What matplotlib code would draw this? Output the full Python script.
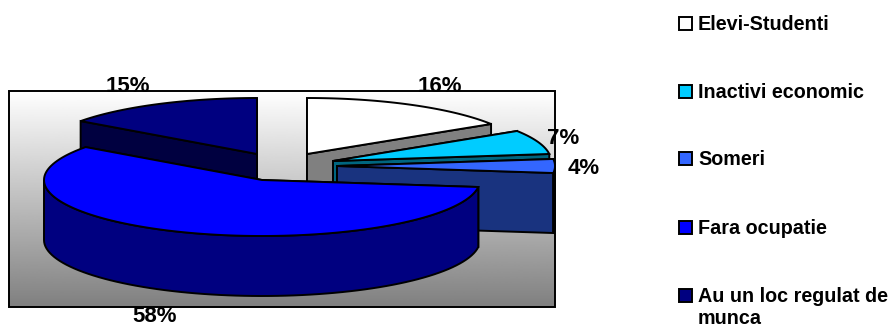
#!/usr/bin/env python3
# -*- coding: utf-8 -*-
import numpy as np
import matplotlib.pyplot as plt
from matplotlib.patches import Polygon, Rectangle

categories = ["Elevi-Studenti", "Inactivi economic", "Someri", "Fara ocupatie",
              "Au un loc regulat de\nmunca"]
values = [16, 7, 4, 58, 15]
value_labels = ["16%", "7%", "4%", "58%", "15%"]

top_colors = ["#FFFFFF", "#00CCFF", "#3366FF", "#0000FF", "#000080"]
cut_colors = ["#808080", "#006680", "#19337F", "#000080", "#000040"]
wall_colors = ["#808080", "#006680", "#19337F", "#000080", "#000040"]

# pie layout, everything in pixels of the figure
RX = 218
RY = 56
DEPTH = 60
centers = [(307, 154), (333, 161), (337, 166), (262, 180), (257, 154)]
label_pos = [(440, 87), (563, 138), (584, 168), (155, 317), (128, 87)]
legend_y = [23, 91, 158, 227, 295]
draw_order = [4, 0, 1, 2, 3]

LW = 1.4
FONT = "Liberation Sans"


def Rim(center, angles):
    # angles are degrees clockwise from north
    t = np.radians(angles)
    return np.column_stack((center[0] + RX * np.sin(t), center[1] - RY * np.cos(t)))


def Drop(points):
    return points + np.array([0, DEPTH])


def DrawSlice(ax, center, start, end, top, cut, wall):
    apex = np.array([center], dtype=float)

    # the two cut faces first, top and outer wall go over them
    for angle in (start, end):
        edge = Rim(center, np.array([angle]))
        face = np.vstack((apex, edge, Drop(edge), Drop(apex)))
        ax.add_patch(Polygon(face, fc=cut, ec="black", lw=LW, zorder=3))

    # only the front half of the rim is visible
    a0, a1 = max(start, 90), min(end, 270)
    if a1 > a0:
        rim = Rim(center, np.linspace(a0, a1, 80))
        ax.add_patch(Polygon(np.vstack((rim, Drop(rim)[::-1])), fc=wall, ec="black",
                             lw=LW, zorder=3))

    arc = Rim(center, np.linspace(start, end, 120))
    ax.add_patch(Polygon(np.vstack((apex, arc)), fc=top, ec="black", lw=LW, zorder=3))


fig = plt.figure(figsize=(8.9, 3.27), dpi=100)
ax = fig.add_axes([0, 0, 1, 1])
ax.set_xlim(0, 890)
ax.set_ylim(327, 0)
ax.axis("off")

# plot area with the white to grey background
shade = np.linspace(1.0, 0.5, 256).reshape(-1, 1)
ax.imshow(shade, extent=(9, 555, 307, 91), cmap="gray", vmin=0, vmax=1,
          aspect="auto", zorder=1)
ax.set_xlim(0, 890)
ax.set_ylim(327, 0)
ax.add_patch(Rectangle((9, 91), 546, 216, fc="none", ec="black", lw=LW, zorder=2))

# slices run clockwise from north
bounds = np.cumsum([0] + values) / sum(values) * 360
for k in draw_order:
    DrawSlice(ax, centers[k], bounds[k], bounds[k + 1],
              top_colors[k], cut_colors[k], wall_colors[k])

for k in range(len(values)):
    ax.text(label_pos[k][0], label_pos[k][1], value_labels[k], family=FONT,
            weight="bold", fontsize=16, color="black", ha="center",
            va="center", zorder=5)

# legend
for k in range(len(categories)):
    y = legend_y[k]
    ax.add_patch(Rectangle((679, y - 6), 12.5, 12.5, fc=top_colors[k], ec="black",
                           lw=LW, zorder=3))
    ax.text(698, y - 8, categories[k], family=FONT, weight="bold", fontsize=14.2,
            color="black", ha="left", va="top", linespacing=1.2, zorder=5)

fig.savefig("out.png", dpi=100)
